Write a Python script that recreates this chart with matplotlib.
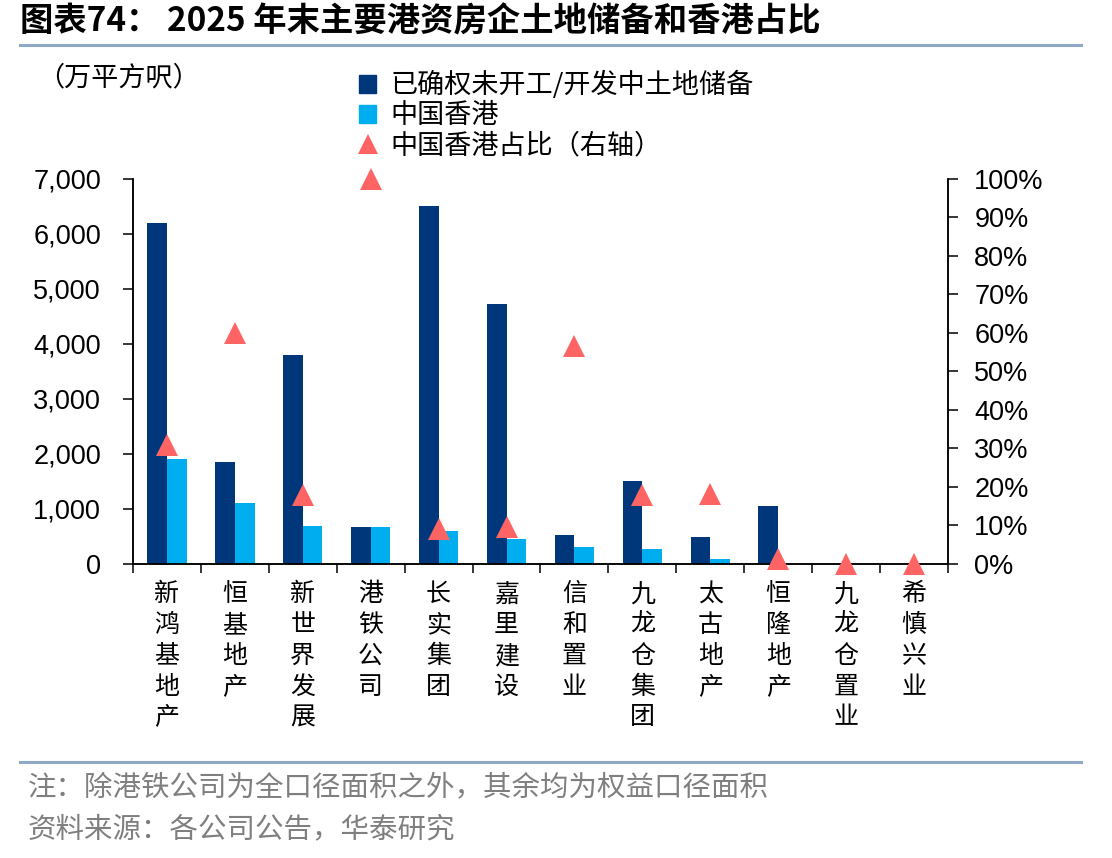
import matplotlib
matplotlib.use("Agg")
import matplotlib.pyplot as plt
import matplotlib.ticker as ticker
from matplotlib.lines import Line2D
from matplotlib.patches import Patch
import numpy as np

plt.rcParams['font.family'] = ['Liberation Sans', 'Noto Sans CJK SC', 'DejaVu Sans']

# data
companies = ["新鸿基地产", "恒基地产", "新世界发展", "港铁公司", "长实集团", "嘉里建设",
             "信和置业", "九龙仓集团", "太古地产", "恒隆地产", "九龙仓置业", "希慎兴业"]
land_bank = [6200, 1850, 3800, 680, 6500, 4720, 530, 1500, 485, 1055, 0, 0]
hk_land = [1900, 1100, 690, 680, 600, 460, 300, 270, 90, 0, 0, 0]
hk_share = [0.31, 0.60, 0.18, 1.00, 0.09, 0.097, 0.565, 0.18, 0.182, 0.014, 0.0, 0.0]

legend_labels = ["已确权未开工/开发中土地储备", "中国香港", "中国香港占比（右轴）"]

dark_blue = "#00377A"
light_blue = "#00AEEF"
tri_red = "#FF6464"
line_col = "#8EA8C6"
cjk = "Noto Sans CJK SC"

fig = plt.figure(figsize=(11.12, 8.58), dpi=100)
ax = fig.add_axes([0.1196, 0.3427, 0.7329, 0.4487])
ax2 = ax.twinx()

x = np.arange(len(companies))
w = 0.29
ax.bar(x - w / 2, land_bank, width=w, color=dark_blue, zorder=2)
ax.bar(x + w / 2, hk_land, width=w, color=light_blue, zorder=2)
ax2.plot(x, hk_share, linestyle="none", marker="^", markersize=16,
         color=tri_red, markeredgewidth=0, clip_on=False, zorder=3)

ax.set_xlim(-0.5, len(companies) - 0.5)
ax.set_ylim(0, 7000)
ax2.set_ylim(0, 1.0)

ax.yaxis.set_major_locator(ticker.MultipleLocator(1000))
ax.yaxis.set_major_formatter(ticker.FuncFormatter(lambda v, p: f"{int(v):,}"))
ax2.yaxis.set_major_locator(ticker.MultipleLocator(0.1))
ax2.yaxis.set_major_formatter(ticker.FuncFormatter(lambda v, p: f"{v*100:.0f}%"))

# x ticks at category boundaries, labels as stacked characters
ax.set_xticks(np.arange(-0.5, len(companies), 1.0))
ax.set_xticklabels([])
ax.tick_params(axis="x", direction="out", length=6.5, width=1.1)
ax.tick_params(axis="y", direction="out", length=7, width=1.1, labelsize=19.5, pad=16)
ax2.tick_params(axis="y", direction="out", length=7, width=1.1, labelsize=19.5, pad=12)

for xi, name in zip(x, companies):
    ax.text(xi, -0.045, "\n".join(name), transform=ax.get_xaxis_transform(),
            ha="center", va="top", fontsize=18, linespacing=1.24, family=cjk)

for a in (ax, ax2):
    a.spines["top"].set_visible(False)
    for s in ("left", "right", "bottom"):
        a.spines[s].set_linewidth(1.1)

# legend
handles = [Patch(color=dark_blue), Patch(color=light_blue),
           Line2D([], [], linestyle="none", marker="^", markersize=15,
                  color=tri_red, markeredgewidth=0)]
fig.legend(handles, legend_labels, loc="upper left", bbox_to_anchor=(0.313, 0.93),
           frameon=False, handlelength=0.65, handleheight=0.65,
           handletextpad=0.5, labelspacing=0.12, borderaxespad=0,
           prop={"family": cjk, "size": 19.5})

fig.text(0.033, 0.909, "（万平方呎）", fontsize=19.5, va="center", ha="left", family=cjk)

# title and rules
fig.text(0.018, 0.974, "图表74： 2025 年末主要港资房企土地储备和香港占比",
         fontsize=24, fontweight="bold", va="center", ha="left",
         family=[cjk, "DejaVu Sans"])
fig.add_artist(Line2D([0.018, 0.972], [0.947, 0.947], color=line_col, lw=2.2))
fig.add_artist(Line2D([0.018, 0.972], [0.112, 0.112], color=line_col, lw=2.2))

fig.text(0.025, 0.081, "注：除港铁公司为全口径面积之外，其余均为权益口径面积",
         fontsize=20.5, color="#7F7F7F", va="center", ha="left", family=cjk)
fig.text(0.025, 0.034, "资料来源：各公司公告，华泰研究",
         fontsize=20.5, color="#7F7F7F", va="center", ha="left", family=cjk)

fig.savefig("out.png", dpi=100)
